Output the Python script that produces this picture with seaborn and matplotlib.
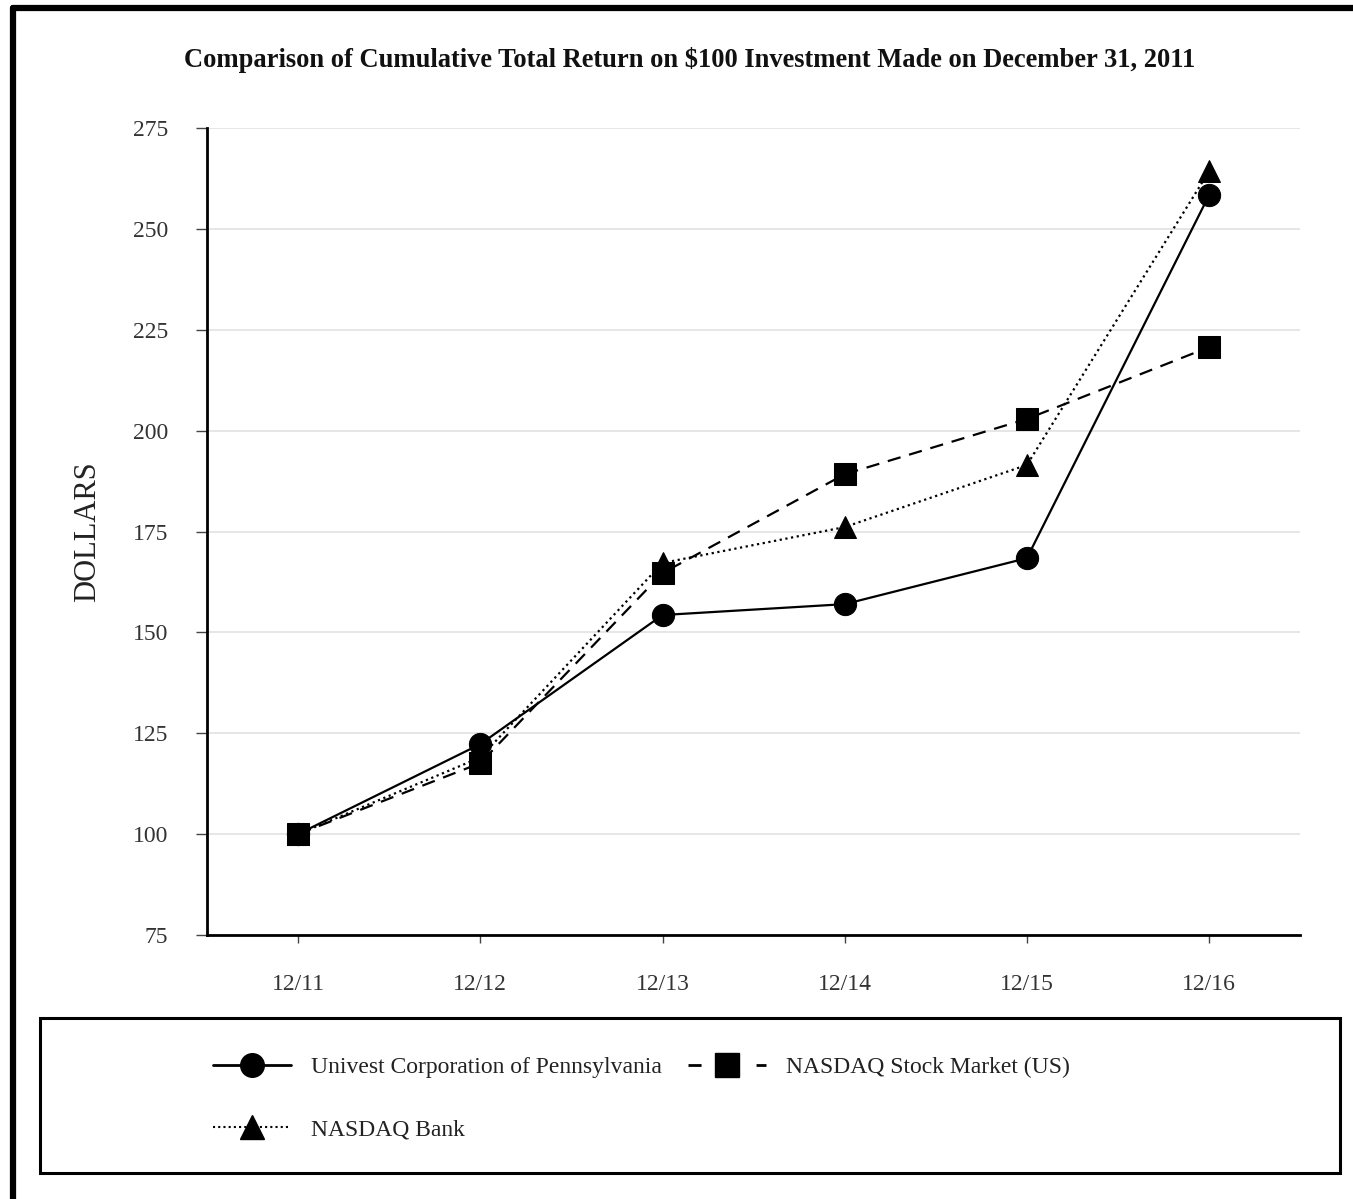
import numpy as np
import pandas as pd
import matplotlib
matplotlib.use("Agg")
import matplotlib.pyplot as plt
from matplotlib.lines import Line2D
from matplotlib.patches import Rectangle
import seaborn as sns

periods = ["12/11", "12/12", "12/13", "12/14", "12/15", "12/16"]
univest = [100, 122.3, 154.3, 157.0, 168.4, 258.4]
nasdaq_stock = [100, 117.6, 164.7, 189.2, 202.9, 220.7]
nasdaq_bank = [100, 119.0, 167.2, 176.1, 191.5, 264.3]

series_names = ["Univest Corporation of Pennsylvania", "NASDAQ Stock Market (US)", "NASDAQ Bank"]

df = pd.DataFrame({
    "x": list(range(len(periods))) * 3,
    "value": univest + nasdaq_stock + nasdaq_bank,
    "series": [series_names[0]] * 6 + [series_names[1]] * 6 + [series_names[2]] * 6,
})

sns.set_theme(style="white")
plt.rcParams["font.family"] = ["Liberation Serif", "DejaVu Serif"]

fig = plt.figure(figsize=(13.53, 11.99), dpi=100)
ax = fig.add_axes([0.153, 0.2202, 0.808, 0.673])

sns.lineplot(
    data=df, x="x", y="value", hue="series", style="series",
    palette=["black"] * 3,
    markers={series_names[0]: "o", series_names[1]: "s", series_names[2]: "^"},
    dashes={series_names[0]: "", series_names[1]: (6, 4), series_names[2]: (1, 1.6)},
    markersize=16, linewidth=1.6, markeredgecolor="black",
    ax=ax, legend=False,
)

ax.set_xlim(-0.5, 5.5)
ax.set_ylim(75, 275)
ax.set_yticks(np.arange(75, 276, 25))
ax.set_xticks(range(len(periods)))
ax.set_xticklabels(periods)
ax.tick_params(axis="both", labelsize=17, labelcolor="#333333", color="#444444",
               length=8, width=1, direction="out", left=True, bottom=True)
ax.tick_params(axis="y", pad=20)
ax.tick_params(axis="x", pad=22, length=6)
ax.yaxis.grid(True, color="#e2e2e2", linewidth=1.2)
ax.set_axisbelow(True)
for s in ["top", "right"]:
    ax.spines[s].set_visible(False)
for s in ["left", "bottom"]:
    ax.spines[s].set_color("black")
    ax.spines[s].set_linewidth(2)
ax.set_xlabel("")
ax.set_ylabel("DOLLARS", fontsize=22, color="#222222", labelpad=22)

fig.text(0.51, 0.95, "Comparison of Cumulative Total Return on $100 Investment Made on December 31, 2011",
         ha="center", va="center", fontsize=19.1, fontweight="bold", color="#111111")

# legend box
fig.patches.append(Rectangle((40 / 1353, 1 - 1173 / 1199), 1300 / 1353, 155 / 1199,
                             transform=fig.transFigure, fill=False, edgecolor="black", linewidth=2.2))

handles = [
    Line2D([], [], color="black", linestyle="-", linewidth=2, marker="o", markersize=17),
    Line2D([], [], color="black", linestyle=(0, (1, 1.5)), linewidth=1.5, marker="^", markersize=17),
    Line2D([], [], color="black", linestyle=(0, (4.7, 19.8)), linewidth=2, marker="s", markersize=17),
]
labels = [series_names[0], series_names[2], series_names[1]]
fig.legend(handles, labels, loc="upper left", bbox_to_anchor=(192 / 1353, 1 - 1035 / 1199),
           ncol=2, frameon=False, fontsize=17, handlelength=3.3, handletextpad=0.85,
           columnspacing=1.1, labelspacing=1.75, labelcolor="#222222")

# outer border (left and top)
fig.lines.append(Line2D([13 / 1353, 13 / 1353], [0, 1 - 8 / 1199], transform=fig.transFigure,
                        color="black", linewidth=4.5))
fig.lines.append(Line2D([13 / 1353, 1], [1 - 8 / 1199, 1 - 8 / 1199], transform=fig.transFigure,
                        color="black", linewidth=4.5))

fig.savefig("out.png", dpi=100, facecolor="white")
plt.close()
